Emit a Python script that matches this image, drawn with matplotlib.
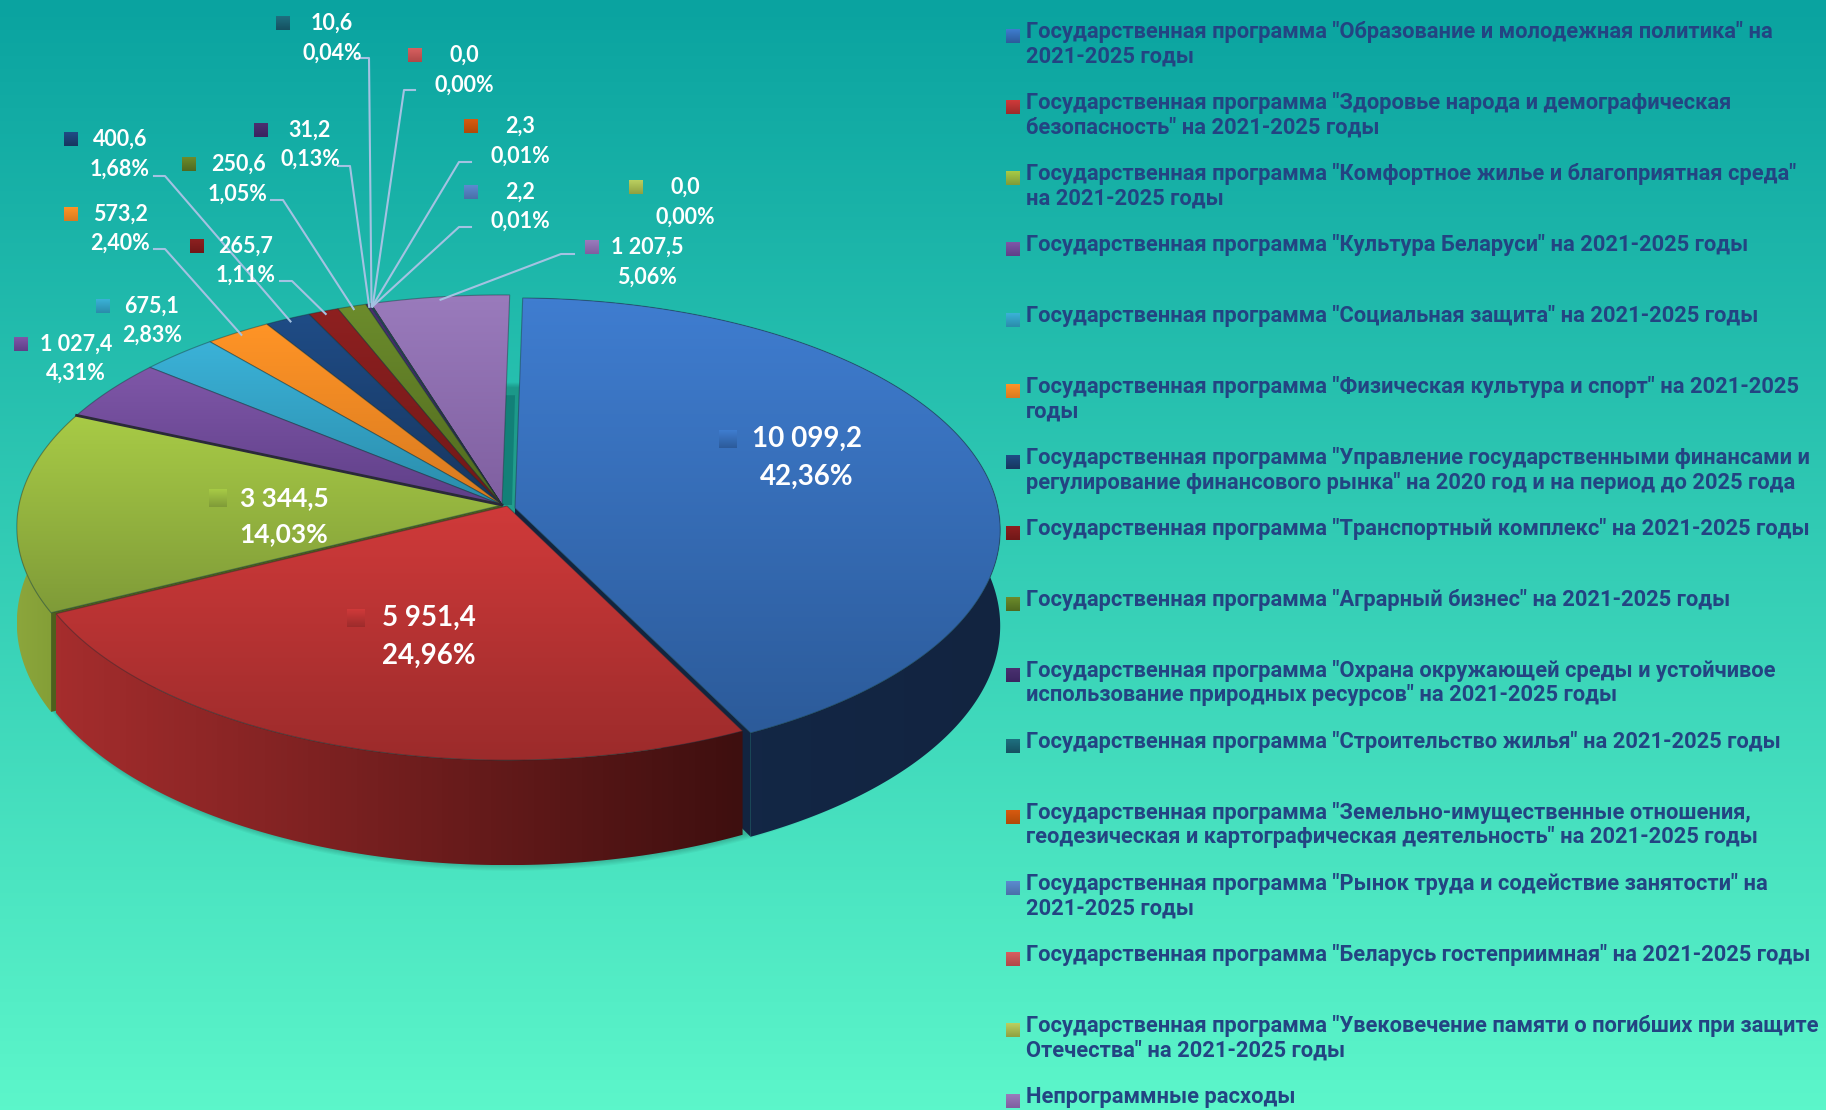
import numpy as np
import matplotlib
matplotlib.use('Agg')
from matplotlib import pyplot as plt
from matplotlib.colors import to_rgb
from matplotlib.patches import Polygon

# data
legend_labels = [
    'Государственная программа "Образование и молодежная политика" на\n2021-2025 годы',
    'Государственная программа "Здоровье народа и демографическая\nбезопасность" на 2021-2025 годы',
    'Государственная программа "Комфортное жилье и благоприятная среда"\nна 2021-2025 годы',
    'Государственная программа "Культура Беларуси" на 2021-2025 годы',
    'Государственная программа "Социальная защита" на 2021-2025 годы',
    'Государственная программа "Физическая культура и спорт" на 2021-2025\nгоды',
    'Государственная программа "Управление государственными финансами и\nрегулирование финансового рынка" на 2020 год и на период до 2025 года',
    'Государственная программа "Транспортный комплекс" на 2021-2025 годы',
    'Государственная программа "Аграрный бизнес" на 2021-2025 годы',
    'Государственная программа "Охрана окружающей среды и устойчивое\nиспользование природных ресурсов" на 2021-2025 годы',
    'Государственная программа "Строительство жилья" на 2021-2025 годы',
    'Государственная программа "Земельно-имущественные отношения,\nгеодезическая и картографическая деятельность" на 2021-2025 годы',
    'Государственная программа "Рынок труда и содействие занятости" на\n2021-2025 годы',
    'Государственная программа "Беларусь гостеприимная" на 2021-2025 годы',
    'Государственная программа "Увековечение памяти о погибших при защите\nОтечества" на 2021-2025 годы',
    'Непрограммные расходы',
]
values = [10099.2, 5951.4, 3344.5, 1027.4, 675.1, 573.2, 400.6, 265.7,
          250.6, 31.2, 10.6, 2.3, 2.2, 0.0, 0.0, 1207.5]
percents = [42.36, 24.96, 14.03, 4.31, 2.83, 2.40, 1.68, 1.11,
            1.05, 0.13, 0.04, 0.01, 0.01, 0.00, 0.00, 5.06]

# styles
top_colors = ['#3F7DD0', '#D03A3A', '#A8CB46', '#7F57A8', '#3BB2D8', '#FF9426',
              '#1F4C86', '#8E2020', '#6C8C2C', '#4A3070', '#1F7080', '#D85A10',
              '#5B8BD0', '#D86060', '#BBD060', '#9A7BBC']
bottom_colors = ['#2C5B9A', '#9C2B2B', '#7F9B38', '#5F3F88', '#2A8CAA', '#D87A20',
                 '#17365F', '#701818', '#50691F', '#3A2560', '#155060', '#B04A08',
                 '#4A70A8', '#B04848', '#8FA040', '#7F5FA0']

# label layout, pixels of the figure
label_x = [807, 429, 284, 76, 152, 120, 120, 246, 238, 310, 332, 520, 520, 464, 685, 647]
label_y = [439, 618, 498, 344, 306, 214, 139, 246, 164, 130, 23, 126, 192, 55, 187, 247]
label_line = [38, 38, 36, 29, 29, 29, 30, 29, 30, 29, 30, 30, 29, 30, 30, 30]
marker_x = [728, 356, 218, 21, 103, 71, 71, 197, 189, 261, 283, 471, 471, 415, 636, 592]
leader_elbows = [None, None, None, None, None, (154, 249, 165), (154, 176, 165),
                 (280, 281, 292), (271, 200, 283), (338, 166, 350), (357, 58, 369),
                 (471, 162, 459), (471, 227, 459), (415, 90, 404), None, (574, 254, 561)]

# pie geometry
CX, CY = 502, 505
RX, RY = 483, 230
PERSP = 0.095
DEPTH = 95
START = 1.0
offsets = {0: (13, 3), 1: (5, 1)}


def project(angle, r=1.0, offset=(0, 0), depth=0.0):
    t = np.radians(angle)
    x = r * np.sin(t)
    y = r * np.cos(t)
    w = 1 + PERSP * y
    return CX + RX * x / w + offset[0], CY - RY * y / w + offset[1] + depth / w


def gradient_fill(ax, points, first, second, horizontal=False, zorder=2):
    points = np.array(points)
    c1 = np.array(to_rgb(first))
    c2 = np.array(to_rgb(second))
    n = np.linspace(0, 1, 128)[:, None]
    grad = (c1 * (1 - n) + c2 * n)
    grad = grad[None, :, :] if horizontal else grad[:, None, :]
    x0, y0 = points.min(axis=0)
    x1, y1 = points.max(axis=0)
    im = ax.imshow(grad, extent=(x0, x1, y1, y0), aspect='auto', zorder=zorder)
    patch = Polygon(points, closed=True, transform=ax.transData)
    im.set_clip_path(patch)


def arc(a0, a1, offset=(0, 0), depth=0.0):
    angles = np.linspace(a0, a1, max(int(abs(a1 - a0) * 2), 2))
    return [project(a, 1.0, offset, depth) for a in angles]


def draw_top(ax, i, a0, a1, zorder):
    off = offsets.get(i, (0, 0))
    pts = [project(0, 0, off)] + arc(a0, a1, off)
    gradient_fill(ax, pts, top_colors[i], bottom_colors[i], zorder=zorder)
    ax.add_patch(Polygon(pts, closed=True, fill=False, ec='#1A2A30', lw=0.8, alpha=0.4, zorder=zorder))


def draw_side(ax, i, a0, a1, first, second, wall_angle, wall_color, zorder):
    off = offsets.get(i, (0, 0))
    # wall of the cut at one end of the slice
    wall = [project(0, 0, off), project(wall_angle, 1, off), project(wall_angle, 1, off, DEPTH), project(0, 0, off, DEPTH)]
    ax.add_patch(Polygon(wall, closed=True, fc=wall_color, ec='none', zorder=zorder))
    pts = arc(a0, a1, off) + arc(a1, a0, off, DEPTH)
    gradient_fill(ax, pts, first, second, horizontal=True, zorder=zorder)


fig = plt.figure(figsize=(18.26, 11.10), dpi=100)
ax = fig.add_axes([0, 0, 1, 1])

# background
bg = np.linspace(0, 1, 256)[:, None, None] * (np.array(to_rgb('#5CF6CA')) - np.array(to_rgb('#0AA3A0'))) + np.array(to_rgb('#0AA3A0'))
ax.imshow(bg, extent=(0, 1826, 1110, 0), aspect='auto', zorder=0)

total = sum(values)
edges = START + np.concatenate([[0], np.cumsum(values)]) / total * 360
mids = (edges[:-1] + edges[1:]) / 2

# soft shadow under the pie
for s in range(1, 7):
    ax.add_patch(Polygon(arc(0, 360, (6, 0), DEPTH + s), closed=True, fc='black', ec='none', alpha=0.035, zorder=1))

# dark gap next to the blue slice
gap_x, gap_y = project(START, 0.5)
ax.add_patch(Polygon([project(0, 0), (gap_x, gap_y), (gap_x + 9, gap_y), project(0, 0, (10, 0))],
                     closed=True, fc='#128078', ec='none', zorder=1))

# back slices first, then the front ones
for i in list(range(len(values) - 1, 2, -1)):
    if values[i] > 0:
        draw_top(ax, i, edges[i], edges[i + 1], 3)
draw_side(ax, 0, edges[0], edges[1], '#14294A', '#122440', edges[1], '#122440', 4)
draw_top(ax, 0, edges[0], edges[1], 5)
draw_side(ax, 2, edges[2], edges[3], '#8CA63C', '#7E9A33', edges[2], '#4E5F1C', 4)
draw_top(ax, 2, edges[2], edges[3], 5)
draw_side(ax, 1, edges[1], edges[2], '#A52D2D', '#3E0F0F', edges[2], '#A52D2D', 6)
draw_top(ax, 1, edges[1], edges[2], 7)

# dark line between the green and the purple slice
line_x, line_y = project(edges[3])
ax.plot([CX, line_x], [CY, line_y], color='#2A2A38', lw=2, zorder=6)

# leader lines
for i, elbow in enumerate(leader_elbows):
    if elbow is None:
        continue
    x_end, y_end = project(mids[i], 0.985)
    ax.plot([elbow[0], elbow[2], x_end], [elbow[1], elbow[1], y_end], color='#A4C2E2', lw=1.5, zorder=8)

# data labels
font = ['Lato', 'Open Sans', 'DejaVu Sans']
for i in range(len(values)):
    big = i < 3
    fs = 20 if i < 2 else (19 if i == 2 else 15.5)
    size = 18 if big else 14
    val = f'{values[i]:,.1f}'.replace(',', ' ').replace('.', ',')
    pct = f'{percents[i]:.2f}'.replace('.', ',') + '%'
    ax.text(label_x[i], label_y[i], val, color='white', fontsize=fs, fontweight='bold',
            family=font, ha='center', va='center', zorder=10)
    ax.text(label_x[i], label_y[i] + label_line[i], pct, color='white', fontsize=fs, fontweight='bold',
            family=font, ha='center', va='center', zorder=10)
    box = [(marker_x[i] - size / 2, label_y[i] - size / 2), (marker_x[i] + size / 2, label_y[i] - size / 2),
           (marker_x[i] + size / 2, label_y[i] + size / 2), (marker_x[i] - size / 2, label_y[i] + size / 2)]
    gradient_fill(ax, box, top_colors[i], bottom_colors[i], zorder=9)

# legend
for i, label in enumerate(legend_labels):
    y = 32 + 71.0 * i
    for j, line in enumerate(label.split('\n')):
        ax.text(1026, y + 24.5 * j, line, color='#234482', fontsize=15.75, fontweight='bold',
                family=['Roboto', 'DejaVu Sans'], ha='left', va='center', zorder=10)
    box = [(1006, y - 3), (1020, y - 3), (1020, y + 11), (1006, y + 11)]
    gradient_fill(ax, box, top_colors[i], bottom_colors[i], zorder=9)

ax.set_xlim(0, 1826)
ax.set_ylim(1110, 0)
ax.axis('off')
fig.savefig('out.png', dpi=100)
